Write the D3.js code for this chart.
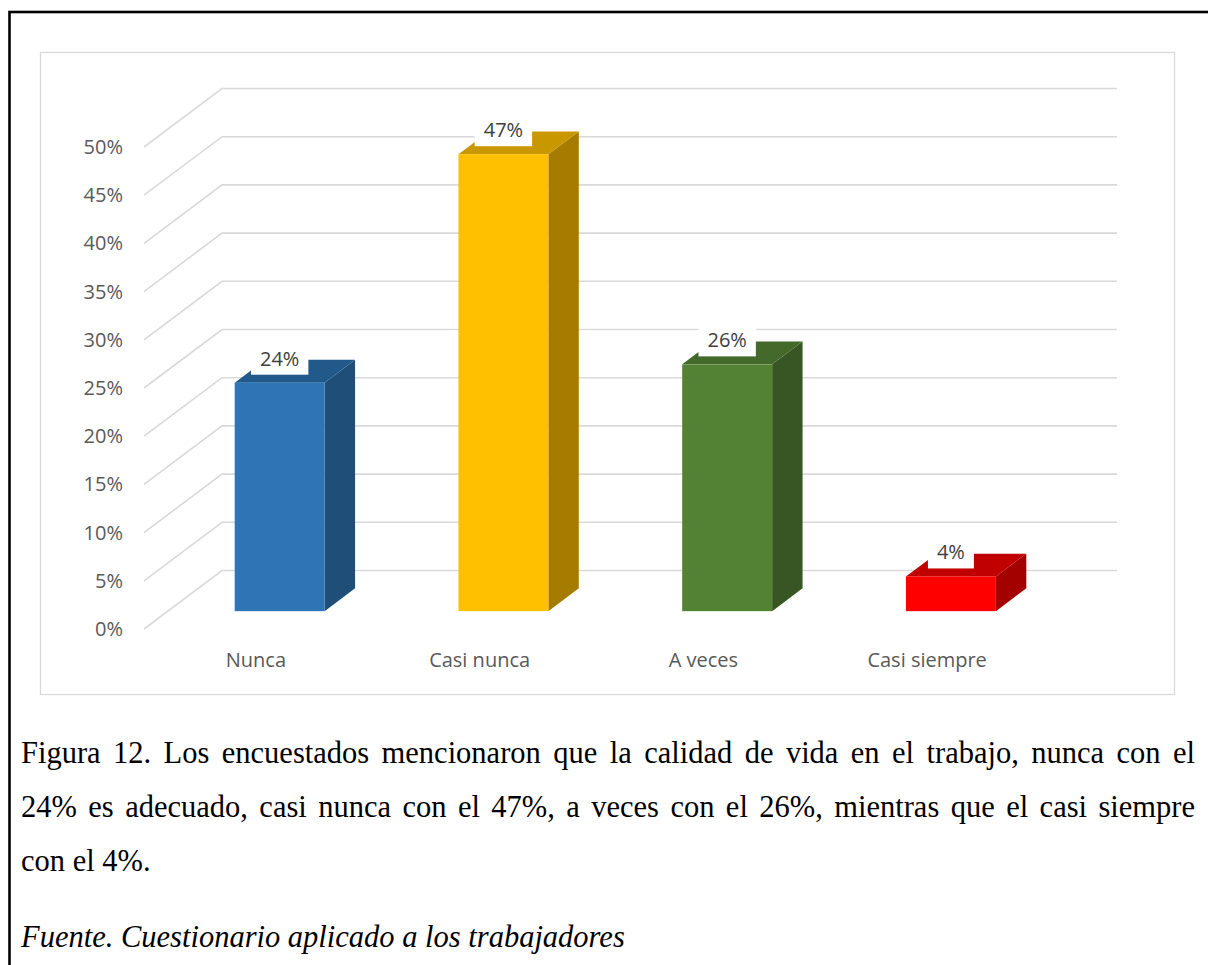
<!DOCTYPE html>
<html>
<head>
<meta charset="utf-8">
<script src="https://cdn.jsdelivr.net/npm/d3@7"></script>
<style>
  html, body { margin: 0; padding: 0; background: #ffffff; }
  svg { display: block; }
</style>
</head>
<body>
<svg id="chart" width="1208" height="965"></svg>
<script>
// ---- data ----
const categories = ["Nunca", "Casi nunca", "A veces", "Casi siempre"];
const values = [23.7, 47.4, 25.6, 3.6];
const tickValues = [0, 5, 10, 15, 20, 25, 30, 35, 40, 45, 50];
const frontColors = ["#2e75b6", "#ffc000", "#548235", "#ff0000"];
const topColors = ["#22598b", "#c99800", "#43692b", "#c00000"];
const sideColors = ["#1f4e79", "#a67c00", "#375623", "#a30000"];
const captionLines = [
  "Figura 12. Los encuestados mencionaron que la calidad de vida en el trabajo, nunca con el",
  "24% es adecuado, casi nunca con el 47%, a veces con el 26%, mientras que el casi siempre",
  "con el 4%."
];
const sourceText = "Fuente. Cuestionario aplicado a los trabajadores";

// ---- layout ----
const svg = d3.select("#chart");
const DX = 78, DY = 58.5;          // depth offset of the back wall
const Z0 = 0.305, Z1 = 0.695;      // bar depth range
const plotX0 = 144, plotX1 = 1039; // front plane
const y = d3.scaleLinear().domain([0, 50]).range([629, 147]);
const x = d3.scaleBand().domain(categories).range([plotX0, plotX1]).padding(0);
const barW = x.bandwidth() * 0.402;

// outer border (extends past the page on the right and bottom)
svg.append("rect").attr("x", 9.5).attr("y", 12).attr("width", 1230).attr("height", 1000)
  .attr("fill", "none").attr("stroke", "#000").attr("stroke-width", 2.6);

// chart area border
svg.append("rect").attr("x", 40.5).attr("y", 52.5).attr("width", 1134).attr("height", 642)
  .attr("fill", "#fff").attr("stroke", "#d9d9d9").attr("stroke-width", 1.3);

// gridlines: side wall diagonal + back wall horizontal
const grid = svg.append("g").attr("stroke", "#d9d9d9").attr("stroke-width", 1.6).attr("fill", "none");
tickValues.forEach(t => {
  const yf = y(t);
  grid.append("path")
    .attr("d", `M${plotX0},${yf}L${plotX0 + DX},${yf - DY}L${plotX1 + DX},${yf - DY}`);
});

// y axis labels
svg.append("g").selectAll("text").data(tickValues).join("text")
  .attr("x", 123).attr("y", d => y(d)).attr("dy", "0.35em")
  .attr("text-anchor", "end")
  .attr("font-family", "'Open Sans', sans-serif").attr("font-size", 20)
  .attr("fill", "#595959")
  .text(d => d + "%");

// category labels
svg.append("g").selectAll("text").data(categories).join("text")
  .attr("x", d => x(d) + x.bandwidth() / 2).attr("y", 667)
  .attr("text-anchor", "middle")
  .attr("font-family", "'Open Sans', sans-serif").attr("font-size", 20)
  .attr("fill", "#595959")
  .text(d => d);

// bars
const ddx = (Z1 - Z0) * DX, ddy = (Z1 - Z0) * DY;
const bars = svg.append("g");
categories.forEach((c, i) => {
  const left = x(c) + (x.bandwidth() - barW) / 2 + Z0 * DX;
  const right = left + barW;
  const top = y(values[i]) - Z0 * DY;
  const bottom = y(0) - Z0 * DY;
  const g = bars.append("g");
  // side
  g.append("path").attr("fill", sideColors[i])
    .attr("d", `M${right},${top}L${right + ddx},${top - ddy}L${right + ddx},${bottom - ddy}L${right},${bottom}Z`);
  // top
  g.append("path").attr("fill", topColors[i])
    .attr("d", `M${left},${top}L${left + ddx},${top - ddy}L${right + ddx},${top - ddy}L${right},${top}Z`);
  // front
  g.append("rect").attr("fill", frontColors[i])
    .attr("x", left).attr("y", top).attr("width", barW).attr("height", bottom - top);

  // data label with white box
  const cx = (left + right) / 2;
  const base = top - 17;
  const lg = svg.append("g");
  const box = lg.append("rect").attr("fill", "#fff");
  const t = lg.append("text")
    .attr("x", cx).attr("y", base).attr("text-anchor", "middle")
    .attr("font-family", "'Open Sans', sans-serif").attr("font-size", 20)
    .attr("fill", "#404040")
    .text(Math.round(values[i]) + "%");
  const w = t.node().getComputedTextLength();
  box.attr("x", cx - w / 2 - 9).attr("y", base - 24).attr("width", w + 18).attr("height", 33);
});

// caption (justified lines)
const capFont = "'Times New Roman', 'Liberation Serif', serif";
const capSize = 30.5;
const capLeft = 21, capRight = 1195;
const baselines = [763, 817, 871];
captionLines.forEach((line, li) => {
  const justify = li < captionLines.length - 1;
  const words = line.split(" ");
  const g = svg.append("g").attr("font-family", capFont).attr("font-size", capSize).attr("fill", "#000");
  if (!justify) {
    g.append("text").attr("x", capLeft).attr("y", baselines[li]).text(line);
    return;
  }
  const nodes = words.map(w => g.append("text").attr("y", baselines[li]).text(w));
  const widths = nodes.map(n => n.node().getComputedTextLength());
  const total = d3.sum(widths);
  const gap = (capRight - capLeft - total) / (words.length - 1);
  let cur = capLeft;
  nodes.forEach((n, k) => { n.attr("x", cur); cur += widths[k] + gap; });
});

svg.append("text").attr("x", capLeft).attr("y", 947)
  .attr("font-family", capFont).attr("font-size", capSize).attr("font-style", "italic")
  .attr("fill", "#000").text(sourceText);
</script>
</body>
</html>
